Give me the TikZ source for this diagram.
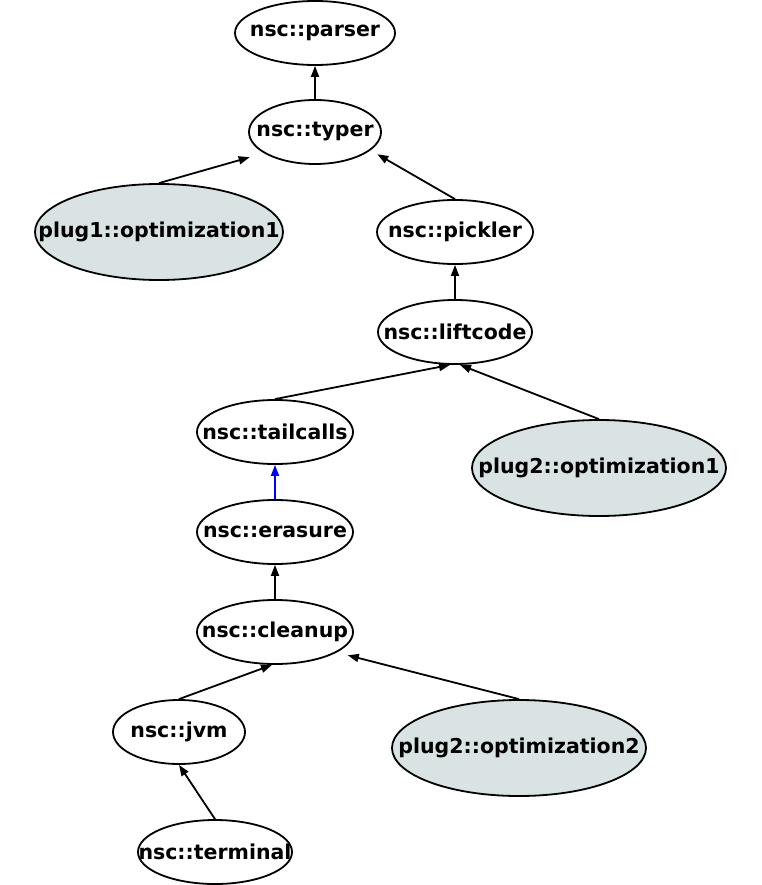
\documentclass[tikz,border=0pt]{standalone}
\usepackage{fontspec}
\usepackage{tikz}
\usetikzlibrary{shapes.geometric,arrows.meta}
\setsansfont{DejaVu Sans}
\definecolor{plugfill}{RGB}{217,227,227}
\definecolor{tailblue}{RGB}{0,0,255}
\newcommand{\phasename}[1]{\makebox[0pt]{#1}}
\tikzset{
  phase/.style={ellipse,draw,line width=1.8pt,inner sep=0pt,font=\fontsize{20.5}{24}\selectfont\bfseries\sffamily,minimum width=156pt,minimum height=64pt},
  plugin/.style={phase,fill=plugfill,minimum height=96pt},
  dep/.style={line width=1.8pt,-{Triangle[length=11pt,width=8pt]}}
}
\begin{document}
\begin{tikzpicture}[x=1pt,y=1pt,yscale=-1,xscale=1]
\useasboundingbox (0,0) rectangle (762,885);
% Phases
\node [phase,minimum width=160pt] (parser) at (315,33) {\phasename{nsc::parser}};
\node [phase,minimum width=132pt] (typer) at (315,132) {\phasename{nsc::typer}};
\node [plugin,minimum width=248pt] (plugopta) at (159,232) {\phasename{plug1::optimization1}};
\node [phase] (pickler) at (455,232) {\phasename{nsc::pickler}};
\node [phase,minimum width=154pt] (liftcode) at (455,332) {\phasename{nsc::liftcode}};
\node [phase] (tailcalls) at (275,432) {\phasename{nsc::tailcalls}};
\node [plugin,minimum width=254pt] (plugoptb) at (599,468) {\phasename{plug2::optimization1}};
\node [phase] (erasure) at (275,532) {\phasename{nsc::erasure}};
\node [phase] (cleanup) at (275,632) {\phasename{nsc::cleanup}};
\node [phase,minimum width=132pt] (jvm) at (179,732) {\phasename{nsc::jvm}};
\node [plugin,minimum width=254pt] (plugoptc) at (519,748) {\phasename{plug2::optimization2}};
\node [phase,minimum width=154pt] (terminal) at (215,852) {\phasename{nsc::terminal}};

% Dependencies
\draw [dep] (typer) -- (parser);
\draw [dep] (plugopta.north) -- ([xshift=-18pt,yshift=2pt]typer.south west);
\draw [dep] (pickler.north) -- ([xshift=15pt,yshift=-1pt]typer.south east);
\draw [dep] (liftcode) -- (pickler);
\draw [dep] (tailcalls.north) -- ([xshift=-5pt]liftcode.south);
\draw [dep] (plugoptb.north) -- ([xshift=5pt]liftcode.south);
\draw [dep,tailblue] (erasure) -- (tailcalls);
\draw [dep] (cleanup) -- (erasure);
\draw [dep] (jvm.north) -- ([xshift=-3pt]cleanup.south);
\draw [dep] (plugoptc.north) -- ([xshift=17pt]cleanup.south east);
\draw [dep] (terminal.north) -- (jvm.south);
\end{tikzpicture}
\end{document}
